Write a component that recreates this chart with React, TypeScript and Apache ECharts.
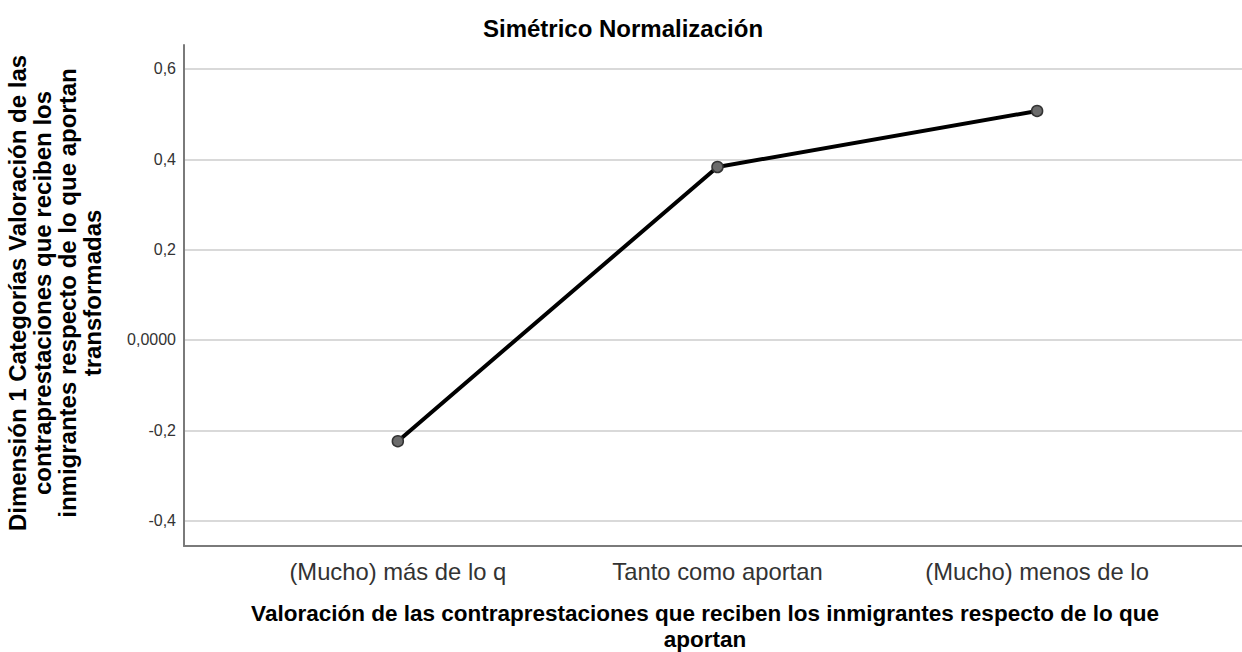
import React, { useEffect, useRef } from "react";
import * as echarts from "echarts";

const categories = ["(Mucho) más de lo q", "Tanto como aportan", "(Mucho) menos de lo"];
const categoryPositions = [1, 2, 3];
const values = [-0.224, 0.383, 0.507];
const yTicks = [-0.4, -0.2, 0, 0.2, 0.4, 0.6];
const title = "Simétrico Normalización";
const xTitleLines = ["Valoración de las contraprestaciones que reciben los inmigrantes respecto de lo que", "aportan"];
const yTitle = "Dimensión 1 Categorías Valoración de las\ncontraprestaciones que reciben los\ninmigrantes respecto de lo que aportan\ntransformadas";

const FONT = "'Liberation Sans', Arial, sans-serif";

export default function App() {
  const ref = useRef<HTMLDivElement>(null);
  useEffect(() => {
    if (!ref.current) return;
    const chart = echarts.init(ref.current, undefined, { renderer: "svg" });
    const data = categoryPositions.map((x, i) => [x, values[i]]);
    const xTitleY = [613, 639];
    chart.setOption({
      animation: false,
      backgroundColor: "#ffffff",
      textStyle: { fontFamily: FONT },
      title: {
        text: title,
        left: 618,
        top: 11,
        textAlign: "center",
        textStyle: { fontFamily: FONT, fontSize: 24, fontWeight: "bold", color: "#000" },
      },
      grid: { left: 184, top: 45, right: 0, bottom: 106, containLabel: false },
      xAxis: {
        type: "value",
        min: 0.331,
        max: 3.641,
        axisLine: { show: true, onZero: false, lineStyle: { color: "#7a7a7a", width: 2 } },
        axisTick: { show: false },
        splitLine: { show: false },
        axisLabel: {
          customValues: categoryPositions,
          formatter: (v: number) => {
            const idx = categoryPositions.indexOf(Math.round(v));
            return idx >= 0 ? categories[idx] : "";
          },
          fontFamily: FONT,
          fontSize: 23.8,
          color: "#333",
          margin: 13,
        },
      },
      yAxis: {
        type: "value",
        min: -0.456,
        max: 0.653,
        axisLine: { show: true, onZero: false, lineStyle: { color: "#7a7a7a", width: 2 } },
        axisTick: { show: false, customValues: yTicks },
        splitLine: { show: true, lineStyle: { color: "#d9d9d9", width: 2 } },
        axisLabel: {
          customValues: yTicks,
          formatter: (v: number) => {
            if (Math.abs(v) < 1e-9) return "0,0000";
            return v.toFixed(1).replace(".", ",");
          },
          fontFamily: FONT,
          fontSize: 16,
          color: "#333",
          margin: 8,
        },
      },
      graphic: [
        {
          type: "text",
          x: 55,
          y: 293,
          rotation: Math.PI / 2,
          style: {
            text: yTitle,
            fontFamily: FONT,
            fontSize: 24,
            fontWeight: "bold",
            fill: "#000",
            align: "center",
            verticalAlign: "middle",
            lineHeight: 25.3,
          },
        },
        ...xTitleLines.map((line, i) => ({
          type: "text",
          x: 705,
          y: xTitleY[i],
          style: {
            text: line,
            fontFamily: FONT,
            fontSize: 22.5,
            fontWeight: "bold",
            fill: "#000",
            align: "center",
            verticalAlign: "middle",
          },
        })),
      ],
      series: [
        {
          type: "line",
          data,
          symbol: "circle",
          symbolSize: 11,
          lineStyle: { color: "#000", width: 4 },
          itemStyle: { color: "#6b6b6b", borderColor: "#333", borderWidth: 1.5 },
          z: 3,
        },
      ],
    });
    return () => chart.dispose();
  }, []);
  return <div ref={ref} style={{ width: 1242, height: 652, position: "absolute", left: 0, top: 0 }} />;
}
